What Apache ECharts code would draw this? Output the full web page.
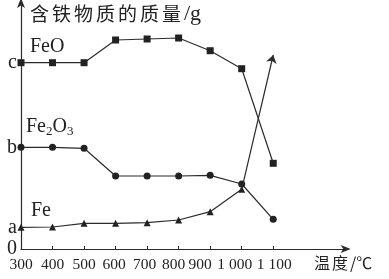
<!DOCTYPE html>
<html><head><meta charset="utf-8">
<script src="https://cdn.jsdelivr.net/npm/echarts@6/dist/echarts.min.js"></script>
<style>html,body{margin:0;padding:0;background:#fff}#c{width:389px;height:279px}</style>
</head><body><div id="c"></div>
<script>
// temperatures (°C)
const temps = [300, 400, 500, 600, 700, 800, 900, 1000, 1100];
// mass of iron-containing substances (arbitrary units)
const feoMass   = [186.3, 186.3, 186.3, 209, 210, 211, 198.3, 180.3, 85.7];
const fe2o3Mass = [101.7, 101.7, 100.7, 73, 73, 73, 73.7, 65, 29.7];
const feMass    = [21.7, 22, 25.7, 25.7, 26.3, 29, 37.3, 59.7];   // 300..1000
const feArrowEnd = [1100, 194];                                   // arrow tip of Fe trend
const yTickValues = [0, 21.7, 101.7, 186.3];
const yTickLabels = ['0', 'a', 'b', 'c'];

const pair = (xs, ys) => ys.map((v, i) => [xs[i], v]);
const ink = '#2b2b2b';
const serif = '"Liberation Serif","DejaVu Serif",serif';
const cjk = '"Noto Sans CJK SC","Noto Sans",sans-serif';
const tempsA = temps.filter((_, i) => i % 2 === 0);
const tempsB = temps.filter((_, i) => i % 2 === 1);
const fmtTemp = v => v >= 1000 ? String(v).replace(/^(\d)/, '$1 ') : String(v);

// label typesetting nudges (px) as in the printed figure
const labelNudge = {300: 0, 400: 0, 500: 0, 600: -1.5, 700: -2.5, 800: -5, 900: -10, 1000: -7, 1100: 1};
const labelRich = {};
temps.forEach(v => {
  const s = labelNudge[v] || 0;
  labelRich['t' + v] = {fontFamily: serif, fontSize: 15.5, color: '#222',
    padding: s < 0 ? [0, -2 * s, 0, 0] : [0, 0, 0, 2 * s]};
});

function spaced(str) {
  return str.split('').map(ch => '{c|' + ch + '}').join('');
}
function xAxisDef(vals, withLine) {
  return {
    type: 'value', min: 300, max: 1333, interval: 100, position: 'bottom', offset: 0,
    axisLine: {show: withLine, symbol: ['none', 'arrow'], symbolSize: [6, 10], symbolOffset: [0, 4],
      lineStyle: {color: ink, width: 1.2}},
    axisTick: {show: withLine, inside: true, length: 3, customValues: temps, lineStyle: {color: ink}},
    axisLabel: {customValues: vals, margin: 8, color: '#222', fontFamily: serif, fontSize: 15.5,
      hideOverlap: false, showMinLabel: true, showMaxLabel: true, rich: labelRich,
      formatter: v => '{t' + v + '|' + fmtTemp(v) + '}'},
    splitLine: {show: false}
  };
}

const chart = echarts.init(document.getElementById('c'), null, {renderer: 'canvas'});
chart.setOption({
  animation: false,
  backgroundColor: '#fff',
  grid: {left: 21, right: 42.3, top: 2, bottom: 30, containLabel: false, outerBoundsMode: 'none'},
  xAxis: [xAxisDef(tempsA, true), xAxisDef(tempsB, false)],
  yAxis: {
    type: 'value', min: 0, max: 247,
    axisLine: {show: true, symbol: ['none', 'arrow'], symbolSize: [6, 10], symbolOffset: [0, 4],
      lineStyle: {color: ink, width: 1.2}},
    axisTick: {show: false},
    axisLabel: {customValues: yTickValues, margin: 4, color: '#222', fontFamily: serif, fontSize: 20,
      hideOverlap: false,
      formatter: v => { const i = yTickValues.indexOf(v); return i >= 0 ? yTickLabels[i] : ''; }},
    splitLine: {show: false}
  },
  series: [
    {type: 'line', name: 'FeO', data: pair(temps, feoMass), symbol: 'rect', symbolSize: 7,
      lineStyle: {color: ink, width: 1.2}, itemStyle: {color: '#222'}},
    {type: 'line', name: 'Fe2O3', data: pair(temps, fe2o3Mass), symbol: 'circle', symbolSize: 7,
      lineStyle: {color: ink, width: 1.2}, itemStyle: {color: '#222'}},
    {type: 'line', name: 'Fe', data: pair(temps, feMass), symbol: 'triangle', symbolSize: 7,
      lineStyle: {color: ink, width: 1.2}, itemStyle: {color: '#222'},
      markLine: {silent: true, animation: false, symbol: ['none', 'arrow'], symbolSize: 8,
        label: {show: false}, lineStyle: {color: ink, width: 1.2, type: 'solid'},
        data: [[{coord: [temps[feMass.length - 1], feMass[feMass.length - 1]]}, {coord: feArrowEnd}]]}}
  ],
  graphic: [
    {type: 'text', left: 30, top: 3, style: {text: spaced('含铁物质的质量') + '{g|/g}',
      rich: {c: {fontFamily: cjk, fontSize: 19, width: 22, fill: '#222'},
             g: {fontFamily: serif, fontSize: 22, fill: '#222'}}}},
    {type: 'text', left: 30, top: 37, style: {text: 'FeO', font: '20px ' + serif, fill: '#222'}},
    {type: 'text', left: 26, top: 117, style: {text: '{a|Fe}{s|2}{a|O}{s|3}',
      rich: {a: {fontFamily: serif, fontSize: 20, fill: '#222', height: 22},
             s: {fontFamily: serif, fontSize: 13, fill: '#222', padding: [10, 0, 0, 0]}}}},
    {type: 'text', left: 31, top: 201, style: {text: 'Fe', font: '20px ' + serif, fill: '#222'}},
    {type: 'text', left: 314, top: 255, style: {text: '{c|温}{c|度}{g|/℃}',
      rich: {c: {fontFamily: cjk, fontSize: 16, width: 18, fill: '#222'},
             g: {fontFamily: cjk, fontSize: 16, fill: '#222'}}}}
  ]
});
</script></body></html>
